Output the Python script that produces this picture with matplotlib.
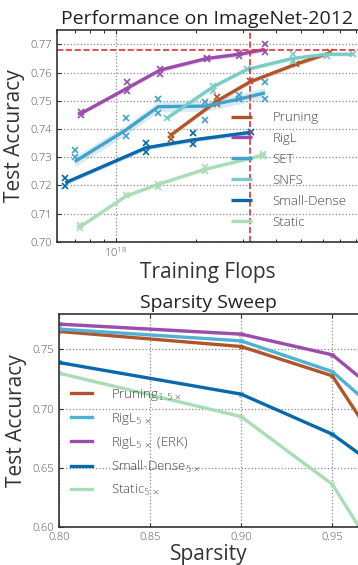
import numpy as np
import matplotlib
matplotlib.use('Agg')
import matplotlib.pyplot as plt

plt.rcParams['font.family'] = ['Open Sans', 'DejaVu Sans']
plt.rcParams['font.weight'] = 'light'
plt.rcParams['mathtext.fontset'] = 'dejavusans'

# ---- top panel data (training flops vs accuracy) ----
rigl_x = [0.739e18, 1.10e18, 1.468e18, 2.20e18, 2.92e18, 3.64e18]
rigl_y = [0.7455, 0.7544, 0.7609, 0.7650, 0.7665, 0.7682]
rigl_runs = [[0.7460, 0.7450], [0.7567, 0.7535], [0.7612, 0.7595],
             [0.7652, 0.7648], [0.7670, 0.7658], [0.7700, 0.7672]]

set_x = [0.700e18, 1.09e18, 1.447e18, 2.17e18, 2.92e18, 3.64e18]
set_y = [0.7284, 0.7396, 0.7479, 0.7481, 0.7506, 0.7528]
set_runs = [[0.7325, 0.7300], [0.7440, 0.7375], [0.7508, 0.7455],
            [0.7495, 0.7430], [0.7522, 0.7505], [0.7565, 0.7505]]

sd_x = [0.645e18, 1.297e18, 1.949e18, 3.22e18]
sd_y = [0.7209, 0.7333, 0.7361, 0.7388]
sd_runs = [[0.7225, 0.7198], [0.7350, 0.7318], [0.7385, 0.7345], [0.7390]]

static_x = [0.734e18, 1.093e18, 1.447e18, 2.17e18, 3.59e18]
static_y = [0.7053, 0.7162, 0.7204, 0.7257, 0.7307]
static_runs = [[0.7058, 0.7050], [0.7165], [0.7205, 0.7195],
               [0.7265, 0.7252], [0.7310, 0.7305]]

prune_x = [1.61e18, 2.41e18, 3.2e18, 4.77e18, 6.40e18]
prune_y = [0.7378, 0.7500, 0.7567, 0.7630, 0.7670]
prune_runs = [[0.7380, 0.7365], [0.7512, 0.7488], [0.7570], [0.7630], [0.7672]]

snfs_x = [1.555e18, 2.33e18, 3.11e18, 4.63e18, 6.22e18, 7.79e18]
snfs_y = [0.7438, 0.7550, 0.7611, 0.7650, 0.7665, 0.7665]
snfs_runs = [[0.7440], [0.7553, 0.7535], [0.7612], [0.7665, 0.7640],
             [0.7660], [0.7665]]

dense_acc = 0.768
dense_flops = 3.2e18

# ---- bottom panel data (sparsity sweep) ----
sparsity = [0.80, 0.90, 0.95, 0.965]
prune_sw = [0.7653, 0.7525, 0.7277, 0.6925]
rigl_sw = [0.7673, 0.7573, 0.7313, 0.7110]
rigl_erk_sw = [0.7715, 0.7630, 0.7455, 0.7265]
sd_sw = [0.7390, 0.7122, 0.6783, 0.6615]
static_sw = [0.7300, 0.6932, 0.6359, 0.5990]

c_prune = '#b0552a'
c_rigl = '#9b4dab'
c_set = '#43a2ca'
c_snfs = '#7bccc4'
c_sd = '#0868ac'
c_static = '#a8ddb5'
c_rigl5 = '#4eb3d3'

fig = plt.figure(figsize=(3.58, 5.65), dpi=100)
ax1 = fig.add_axes([0.159, 0.5722, 0.841, 0.3747])
ax2 = fig.add_axes([0.164, 0.0678, 0.836, 0.3764])


def style(ax):
    for s in ['left', 'bottom', 'top']:
        ax.spines[s].set_color('#333333')
        ax.spines[s].set_linewidth(1.2)
    ax.spines['right'].set_visible(False)
    ax.grid(True, linestyle=':', color='#888888', linewidth=0.9)
    ax.tick_params(direction='in', top=True, labelsize=8, labelcolor='#555555',
                   color='#333333', length=3)
    ax.tick_params(which='minor', direction='in', top=True, length=2)


series = [
    (prune_x, prune_y, prune_runs, c_prune, 'Pruning', 0.0008),
    (rigl_x, rigl_y, rigl_runs, c_rigl, 'RigL', 0.0008),
    (set_x, set_y, set_runs, c_set, 'SET', 0.0018),
    (snfs_x, snfs_y, snfs_runs, c_snfs, 'SNFS', 0.0008),
    (sd_x, sd_y, sd_runs, c_sd, 'Small-Dense', 0.0008),
    (static_x, static_y, static_runs, c_static, 'Static', 0.0006),
]
for xs, ys, runs, c, lab, band in series:
    ys_a = np.array(ys)
    ax1.fill_between(xs, ys_a - band, ys_a + band, color=c, alpha=0.2, lw=0)
    ax1.plot(xs, ys, color=c, lw=2.4, label=lab, solid_capstyle='butt')
    for x, rs in zip(xs, runs):
        ax1.plot([x] * len(rs), rs, 'x', color=c, ms=4, mew=1.2)

ax1.axhline(dense_acc, color='#e0303a', ls='--', lw=1.2)
ax1.axvline(dense_flops, color='#e0303a', ls='--', lw=1.2)
ax1.set_xscale('log')
ax1.set_xlim(6.0e17, 8.16e18)
ax1.set_ylim(0.70, 0.7751)
ax1.set_yticks(np.arange(0.70, 0.771, 0.01))
ax1.set_yticklabels(['%.2f' % v for v in np.arange(0.70, 0.771, 0.01)])
style(ax1)
ax1.tick_params(axis='x', which='minor', labelbottom=False)
ax1.set_title('Performance on ImageNet-2012', fontsize=14, color='#222222', pad=4)
ax1.set_xlabel('Training Flops', fontsize=15, color='#333333', labelpad=1)
ax1.set_ylabel('Test Accuracy', fontsize=15, color='#333333', labelpad=4)
ax1.legend(loc='lower right', bbox_to_anchor=(1.0, 0.005), frameon=False,
           fontsize=9.5, handlelength=1.6, handletextpad=1.5, labelspacing=0.6,
           labelcolor='#444444')

# bottom panel
ys = np.array(rigl_erk_sw)
ax2.fill_between(sparsity, ys - 0.0012, ys + 0.0012, color=c_rigl, alpha=0.2, lw=0)
for vals, c, lab in [
    (prune_sw, c_prune, r'Pruning$_{1.5\times}$'),
    (rigl_sw, c_rigl5, r'RigL$_{5\times}$'),
    (rigl_erk_sw, c_rigl, r'RigL$_{5\times}$ (ERK)'),
    (sd_sw, c_sd, r'Small-Dense$_{5\times}$'),
    (static_sw, c_static, r'Static$_{5\times}$'),
]:
    ax2.plot(sparsity, vals, color=c, lw=2.4, label=lab)
    ax2.plot(sparsity, vals, 'x', color=c, ms=3.5, mew=1.0)

ax2.set_xlim(0.80, 0.9641)
ax2.set_ylim(0.60, 0.78)
ax2.set_xticks([0.80, 0.85, 0.90, 0.95])
ax2.set_xticklabels(['0.80', '0.85', '0.90', '0.95'])
ax2.set_yticks([0.60, 0.65, 0.70, 0.75])
ax2.set_yticklabels(['0.60', '0.65', '0.70', '0.75'])
style(ax2)
ax2.set_title('Sparsity Sweep', fontsize=14, color='#222222', pad=4)
ax2.set_xlabel('Sparsity', fontsize=15, color='#333333', labelpad=1)
ax2.set_ylabel('Test Accuracy', fontsize=15, color='#333333', labelpad=4)
ax2.legend(loc='lower left', bbox_to_anchor=(0.0, 0.08), frameon=False,
           fontsize=9.5, handlelength=1.6, handletextpad=1.5, labelspacing=0.6,
           labelcolor='#444444')

fig.savefig('out.png', dpi=100)
